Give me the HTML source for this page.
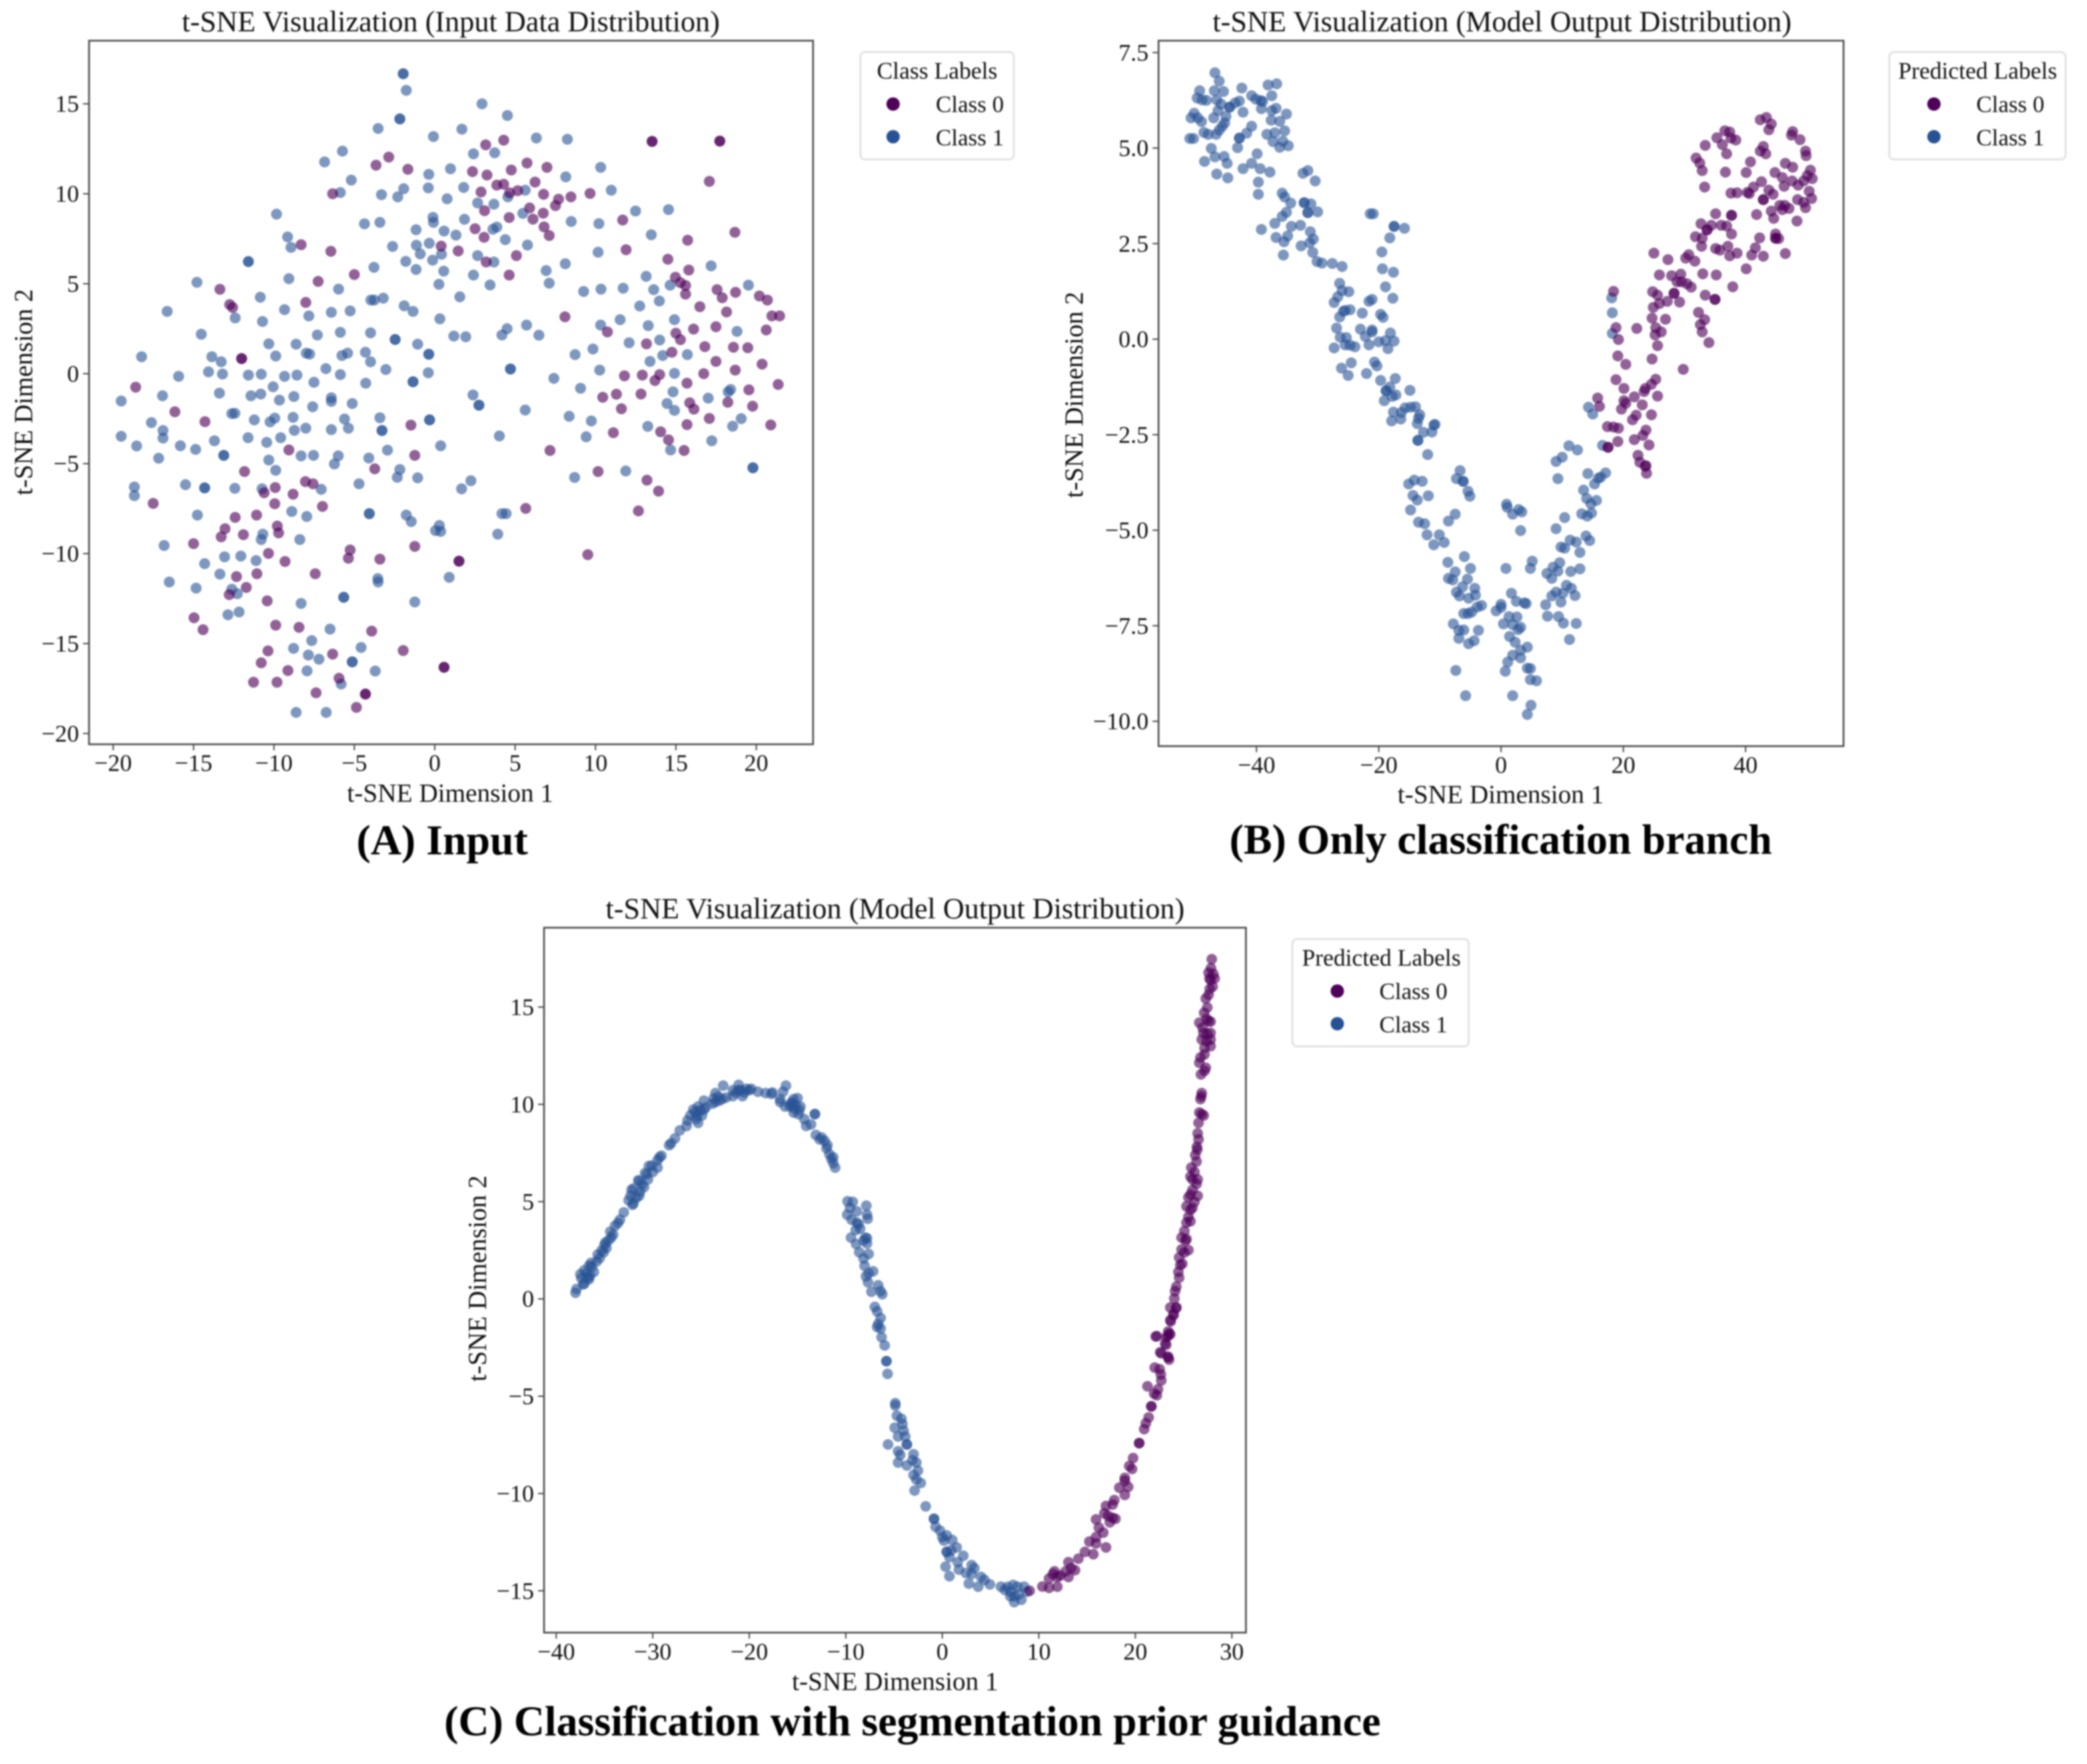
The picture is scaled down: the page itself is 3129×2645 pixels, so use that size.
<!DOCTYPE html>
<html lang="en">
<head>
<meta charset="utf-8">
<title>t-SNE Visualization Comparison</title>
<style>
html,body{margin:0;padding:0;background:#fff;width:3129px;height:2645px;overflow:hidden}
svg{display:block;filter:blur(1px)}
text{font-family:"Liberation Serif",serif;fill:#111}
.title{font-size:44.2px;text-anchor:middle}
.axis-label{font-size:39.2px;text-anchor:middle}
.tick{font-size:36px}
.legend-title{font-size:35.6px;text-anchor:middle}
.legend-text{font-size:35px}
.caption{font-size:63.8px;font-weight:bold;text-anchor:middle;fill:#000}
</style>
</head>
<body>
<svg id="figure" xmlns="http://www.w3.org/2000/svg" width="3129" height="2645" viewBox="0 0 3129 2645">
<rect width="3129" height="2645" fill="#fff"/>

<g id="panel-a">
<text class="title" x="676" y="47">t-SNE Visualization (Input Data Distribution)</text>
<text class="axis-label" x="675" y="1202">t-SNE Dimension 1</text>
<text class="axis-label" transform="translate(48,588) rotate(-90)">t-SNE Dimension 2</text>
<g>
<rect x="1290" y="78" width="230" height="161" rx="7" fill="#fff" stroke="#e2e2e2" stroke-width="3"/>
<text class="legend-title" x="1405" y="118">Class Labels</text>
<circle cx="1339" cy="156" r="10" fill="#4f0058"/>
<text class="legend-text" x="1403" y="168">Class 0</text>
<circle cx="1339" cy="205" r="10" fill="#265294"/>
<text class="legend-text" x="1403" y="218">Class 1</text>
</g>
<text class="caption" x="663" y="1281">(A) Input</text>
</g>

<g id="panel-b">
<text class="title" x="2252" y="47">t-SNE Visualization (Model Output Distribution)</text>
<text class="axis-label" x="2250" y="1204">t-SNE Dimension 1</text>
<text class="axis-label" transform="translate(1623,592) rotate(-90)">t-SNE Dimension 2</text>
<g>
<rect x="2832.5" y="78" width="264.5" height="161" rx="7" fill="#fff" stroke="#e2e2e2" stroke-width="3"/>
<text class="legend-title" x="2965" y="118">Predicted Labels</text>
<circle cx="2899.5" cy="156" r="10" fill="#4f0058"/>
<text class="legend-text" x="2963" y="168">Class 0</text>
<circle cx="2899.5" cy="205" r="10" fill="#265294"/>
<text class="legend-text" x="2963" y="218">Class 1</text>
</g>
<text class="caption" x="2250" y="1280">(B) Only classification branch</text>
</g>

<g id="panel-c">
<text class="title" x="1342" y="1377">t-SNE Visualization (Model Output Distribution)</text>
<text class="axis-label" x="1342" y="2534">t-SNE Dimension 1</text>
<text class="axis-label" transform="translate(728.5,1917) rotate(-90)">t-SNE Dimension 2</text>
<g>
<rect x="1937.6" y="1408" width="264.4" height="161" rx="7" fill="#fff" stroke="#e2e2e2" stroke-width="3"/>
<text class="legend-title" x="2071" y="1448">Predicted Labels</text>
<circle cx="2005" cy="1486" r="10" fill="#4f0058"/>
<text class="legend-text" x="2068" y="1498">Class 0</text>
<circle cx="2005" cy="1535" r="10" fill="#265294"/>
<text class="legend-text" x="2068" y="1548">Class 1</text>
</g>
<text class="caption" x="1368" y="2602">(C) Classification with segmentation prior guidance</text>
</g>
</svg>

<script>
// ---------- Tick values ----------
const inputXTicks = [-20,-15,-10,-5,0,5,10,15,20];
const inputYTicks = [-20,-15,-10,-5,0,5,10,15];
const branchXTicks = [-40,-20,0,20,40];
const branchYTicks = [-10,-7.5,-5,-2.5,0,2.5,5,7.5];
const guidedXTicks = [-40,-30,-20,-10,0,10,20,30];
const guidedYTicks = [-15,-10,-5,0,5,10,15];

// ---------- Panel A: input data ----------
const inputClass1 = [[-1.96,16.67],[-1.96,16.67],[-1.77,15.75],[-2.17,14.16],[-2.17,14.16],[-3.52,13.63],[-5.74,12.37],[-6.85,11.77],[-5.19,10.76],[-5.87,10.07],[-3.31,9.95],[-2.3,9.83],[-1.93,10.28],[-0.08,13.18],[1.69,13.59],[2.94,15],[4.52,14.35],[6.32,13.1],[8.25,13.03],[2.41,12.22],[3.73,12.28],[0.98,11.39],[-0.37,11.08],[-0.4,10.33],[1.8,10.35],[0.77,9.72],[2.67,9.49],[3.68,9.42],[4.55,9.83],[5.63,10.2],[5.48,8.91],[8.15,10.94],[10.32,11.47],[10.98,10.2],[8.49,8.46],[10.21,8.34],[12.49,9.04],[14.54,9.12],[13.47,7.72],[10.16,6.75],[8.12,6.11],[6.93,5.73],[7.12,5.03],[5.77,7.15],[4.39,7.45],[3.86,8.15],[3.62,8.03],[1.85,8.58],[1.32,7.7],[0.58,7.93],[-0.08,8.41],[-0.11,8.69],[-1.16,8],[-3.41,8.41],[-4.37,8.33],[-9.84,8.87],[-9.15,7.6],[-8.94,7.02],[-2.62,7.07],[-1.14,7.14],[-0.34,7.25],[-0.9,6.66],[0.42,6.64],[-0.13,6.31],[-1.8,6.24],[-1.16,5.79],[-3.78,5.91],[0.56,5.7],[2.67,6.56],[3.68,6.21],[2.41,5.48],[0.26,4.97],[3.44,4.93],[1.56,4.27],[-11.59,6.23],[-11.59,6.23],[-9.07,5.28],[-5.98,4.7],[-14.79,5.08],[-10.85,4.25],[-3.97,4.09],[-3.76,4.09],[-3.2,4.2],[-1.9,3.77],[-1.35,3.46],[0.32,3.05],[-16.64,3.46],[-12.41,3.1],[-9.34,3.56],[-7.83,3.21],[-6.43,3.41],[-5.26,3.49],[-10.71,2.9],[-14.52,2.19],[-7.3,2.15],[-5.87,2.3],[-3.99,2.27],[-2.46,1.9],[-2.46,1.9],[1.19,2.09],[1.93,2.05],[4.18,2.15],[4.5,2.5],[5.71,2.7],[6.48,2.14],[-10.32,1.66],[-8.62,1.64],[-1.06,1.64],[-7.99,1.14],[-7.78,1.09],[-9.89,0.98],[-5.77,1.01],[-5.42,1.14],[-4.31,1.19],[-3.99,0.66],[-0.37,1.08],[-0.37,1.08],[-18.23,0.94],[-13.86,0.94],[-13.28,0.66],[-14.07,0.1],[-13.2,-0.02],[-15.93,-0.15],[-11.59,-0.08],[-10.79,-0.03],[-9.34,-0.15],[-8.57,-0.08],[-6.77,0.28],[-5.87,-0.05],[-3.04,0.23],[-0.4,0.05],[4.71,0.26],[4.71,0.26],[-7.51,-0.48],[-4.29,-0.53],[-1.35,-0.45],[-1.35,-0.45],[7.41,-0.26],[8.73,1.06],[9.84,1.37],[10.26,0.2],[9.07,-0.81],[9.26,4.57],[10.34,4.7],[11.72,4.75],[13.15,5.41],[13.62,4.67],[13.97,4.04],[12.75,3.76],[14.64,4.92],[11.53,3],[10.32,2.7],[13.28,2.67],[12.09,1.72],[13.99,1.87],[14.18,1.01],[13.39,0.68],[-10.05,-0.73],[-13.39,-1.08],[-11.43,-1.23],[-10.82,-1.13],[-16.93,-1.23],[-19.5,-1.52],[-8.76,-1.27],[-9.66,-1.47],[-6.43,-1.34],[-6.43,-1.54],[-7.59,-1.84],[-5.13,-1.66],[2.38,-1.18],[2.75,-1.75],[2.75,-1.75],[5.63,-2.02],[-12.62,-2.22],[-12.43,-2.2],[-17.62,-2.72],[-11.22,-2.57],[-9.95,-2.47],[-10.24,-2.68],[-8.81,-2.43],[-5.61,-2.52],[-3.41,-2.45],[-0.32,-2.57],[-0.32,-2.57],[8.36,-2.37],[9.74,-2.63],[14.45,-1.66],[13.25,-2.93],[-8.02,-3.03],[-8.73,-3.15],[-6.43,-3.11],[-5.37,-3.03],[-3.28,-3.16],[-3.28,-3.16],[-16.9,-3.16],[-16.9,-3.58],[-19.5,-3.48],[-11.61,-3.56],[-9.58,-3.56],[-13.7,-3.73],[-10.45,-3.82],[-18.54,-4.02],[-15.82,-4.01],[-14.87,-4.21],[-17.17,-4.7],[-13.12,-4.54],[-13.12,-4.54],[-10.32,-4.8],[-8.31,-4.57],[-7.54,-4.54],[-6,-4.57],[-6.24,-5.02],[-4.1,-4.69],[-2.94,-4.25],[0.37,-4.01],[4.02,-3.46],[9.42,-3.51],[-9.89,-5.37],[-2.17,-5.33],[-2.33,-5.76],[-1.06,-5.79],[-4.71,-6.12],[2.25,-5.95],[1.67,-6.4],[-15.5,-6.17],[-14.31,-6.35],[-14.31,-6.35],[-12.43,-6.37],[-10.74,-6.4],[-7.06,-6.43],[-18.68,-6.3],[-18.68,-6.78],[8.7,-5.77],[11.88,-5.41],[-14.76,-7.86],[-8.89,-7.66],[-7.96,-7.94],[-4.07,-7.78],[-4.07,-7.78],[-1.77,-7.86],[-1.46,-8.22],[4.18,-7.78],[4.44,-7.78],[0.29,-8.44],[0.05,-8.72],[0.37,-8.77],[3.92,-8.92],[-10.69,-8.92],[-10.79,-9.22],[-8.39,-9.22],[-16.83,-9.55],[-13.07,-10.18],[-12.06,-10.14],[-11.11,-10.39],[-14.31,-10.56],[-13.36,-11.14],[-16.51,-11.58],[-14.84,-11.92],[-3.54,-11.39],[-3.52,-11.58],[0.9,-11.32],[-12.62,-11.98],[-12.28,-12.23],[-1.24,-12.69],[-5.66,-12.43],[-5.66,-12.43],[-8.31,-12.77],[-12.86,-13.4],[-12.17,-13.25],[-6.51,-14.2],[-7.65,-14.84],[-8.78,-15.27],[-4.58,-15.22],[-7.86,-15.64],[-7.2,-15.87],[-5.13,-16.02],[-5.13,-16.02],[-7.94,-16.52],[-3.7,-16.53],[-5.82,-17.25],[-8.62,-18.83],[-6.75,-18.83],[17.19,5.99],[19.51,4.92],[14.91,3],[18.8,2.35],[15.71,1.06],[14.91,0.02],[14.82,-1.01],[17.01,-1.36],[18.25,-1.01],[18.4,-0.88],[14.91,-2.04],[18.53,-2.92],[19.06,-2.5],[17.23,-3.73],[14.67,-4.24],[19.79,-5.23],[19.79,-5.23]];
const inputClass0 = [[13.52,12.91],[13.52,12.91],[4.29,12.98],[3.17,12.72],[-2.86,12.04],[-3.65,11.59],[-1.67,11.36],[2.35,11.23],[3.25,11.04],[4.76,11.32],[5.74,11.71],[6.98,11.47],[6.24,10.65],[3.86,10.48],[4.29,10.53],[2.88,10.1],[4.66,10.05],[5.16,10.17],[6.77,9.97],[7.7,9.7],[8.47,9.83],[9.66,10.02],[7.51,9.34],[5.9,9.21],[3.1,9.06],[6.75,8.92],[4.63,8.68],[6.11,8.59],[11.69,8.54],[6.8,8.16],[2.51,8.06],[3.07,7.58],[7.12,7.68],[0.4,7.09],[1.46,6.82],[11.9,6.89],[5.08,6.56],[3.2,6.21],[14.5,6.36],[4.63,5.48],[-6.35,10],[-8.31,7.17],[-6.46,6.8],[-5,5.51],[-7.25,5.13],[-13.36,4.69],[-12.75,3.84],[-12.57,3.68],[-8.02,3.96],[8.1,3.16],[10.74,2.32],[13.17,1.66],[-12.01,0.84],[-12.01,0.84],[11.8,-0.12],[12.91,-0.08],[13.99,-0.05],[13.7,-0.38],[-18.6,-0.75],[10.45,-1.31],[11.3,-1.14],[12.83,-1.13],[11.61,-1.95],[-16.16,-2.12],[-14.29,-2.67],[-1.48,-2.86],[11.11,-3.28],[14.05,-3.23],[14.54,-3.68],[-9.07,-4.24],[7.17,-4.27],[-1.24,-4.54],[-11.83,-5.44],[-3.73,-5.29],[10.16,-5.44],[-8.04,-6],[-7.57,-6.12],[13.2,-5.92],[-9.92,-6.33],[-10.61,-6.62],[-8.81,-6.7],[13.92,-6.53],[-17.51,-7.21],[-9.95,-7.23],[-6.98,-7.38],[5.66,-7.49],[12.67,-7.63],[-11.08,-7.86],[-12.41,-7.99],[-9.79,-8.47],[-9.71,-8.85],[-13.04,-8.62],[-13.28,-9.07],[-11.9,-8.95],[-15,-9.45],[-1.24,-9.6],[-5.26,-9.8],[-10.34,-9.99],[-5.37,-10.26],[-3.41,-10.31],[-9.31,-10.44],[1.51,-10.42],[1.51,-10.42],[9.52,-10.06],[-11.06,-11.12],[-12.33,-11.28],[-7.43,-11.12],[-11.72,-11.88],[-12.78,-12.28],[-10.42,-12.63],[-14.97,-13.57],[-14.41,-14.23],[-9.89,-13.98],[-8.44,-14.1],[-3.92,-14.31],[-10.37,-15.41],[-6.35,-15.59],[-1.96,-15.39],[-10.79,-16.07],[-9.13,-16.5],[0.58,-16.32],[0.58,-16.32],[-5.95,-16.93],[-11.27,-17.15],[-9.81,-17.15],[-7.38,-17.74],[-4.31,-17.81],[-4.31,-17.81],[-4.87,-18.55],[17.73,12.93],[17.73,12.93],[17.08,10.69],[18.67,7.86],[15.73,7.42],[15.8,5.76],[14.97,5.36],[15.28,5.06],[15.6,4.9],[15.6,4.42],[17.56,4.67],[17.88,4.22],[18.71,4.52],[20.19,4.32],[20.69,4.09],[16.49,3.72],[18.15,3.43],[20.97,3.21],[21.45,3.21],[16.1,2.48],[17.49,2.61],[20.62,2.43],[15,2.25],[15.28,1.89],[16.8,1.5],[18.58,1.47],[19.47,1.44],[14.75,1.19],[17.49,0.68],[20.36,0.53],[18.69,0.2],[16.73,0],[15.69,-0.53],[21.36,-0.6],[19.54,-0.9],[15.86,-1.62],[16.12,-1.97],[18.23,-1.59],[19.77,-1.81],[17.08,-2.49],[15.69,-2.83],[20.9,-2.85],[15.51,-4.27]];

// ---------- Panel B: classification branch only ----------
const branchClass1 = [[-46.8,6.97],[-46.1,6.75],[-49.3,6.5],[-46.9,6.5],[-45.4,6.48],[-42.4,6.57],[-38.1,6.65],[-36.7,6.68],[-49.7,6.31],[-48.2,6.25],[-48.9,6.26],[-46.5,6.26],[-45.8,6.15],[-40.8,6.37],[-40.1,6.28],[-39.3,6.24],[-39,6.22],[-37.5,6.37],[-42.8,6.23],[-43.5,6.18],[-44.4,6.07],[-44.4,6.07],[-42.2,5.94],[-39.2,6.03],[-36.8,6.04],[-37.5,5.98],[-46.3,5.98],[-35.1,5.89],[-50.2,5.91],[-50.7,5.79],[-49.6,5.79],[-49,5.69],[-47,5.79],[-45,5.83],[-45.2,5.66],[-45.6,5.57],[-46.1,5.47],[-37.6,5.73],[-36.2,5.7],[-40.8,5.57],[-48.6,5.41],[-47.9,5.36],[-46.6,5.36],[-41.6,5.39],[-35.4,5.45],[-38.3,5.36],[-37,5.4],[-50.9,5.25],[-50.3,5.25],[-42.8,5.26],[-42.8,5.26],[-35.7,5.18],[-37.3,5.17],[-34.8,5.06],[-36.2,5.02],[-43.1,5.01],[-47.4,4.99],[-39.9,4.85],[-46.8,4.77],[-45.3,4.78],[-48.5,4.65],[-44.8,4.6],[-40.8,4.6],[-42.2,4.46],[-39.4,4.46],[-37.8,4.37],[-46.5,4.32],[-44.7,4.22],[-39.7,4.11],[-32.4,4.34],[-31.6,4.41],[-30.4,4.14],[-39.7,3.79],[-35.8,3.82],[-35.4,3.72],[-34.4,3.56],[-32.2,3.57],[-32.2,3.57],[-31.1,3.54],[-30,3.33],[-31.6,3.31],[-31.6,3.31],[-35.1,3.32],[-35.8,3.21],[-21.4,3.28],[-20.9,3.28],[-37,3.03],[-34.3,2.95],[-32.8,2.98],[-39.2,2.87],[-31.2,2.81],[-17.5,2.95],[-17.5,2.95],[-15.8,2.9],[-34.9,2.7],[-36.8,2.66],[-30.7,2.62],[-18.2,2.65],[-35.5,2.55],[-31.3,2.52],[-32.7,2.44],[-19.5,2.28],[-30.8,2.27],[-35.6,2.2],[-30.1,2.03],[-29.3,1.99],[-27.6,1.98],[-26,1.9],[-19.4,1.84],[-17.6,1.75],[-26.4,1.46],[-18.9,1.37],[-26,1.27],[-24.9,1.24],[-26.7,1.11],[-27.3,0.96],[-17.7,1.07],[-21.1,1.04],[-21.6,0.99],[-24.7,0.77],[-25.5,0.75],[-25.8,0.73],[-22.7,0.68],[-19.7,0.65],[-19.3,0.57],[-26.4,0.58],[-26.9,0.29],[-23,0.26],[-21.1,0.24],[-21.1,0.19],[-18.1,0.16],[-22.2,0.07],[-26.3,0.05],[-25.3,0.04],[-20,-0.07],[-18.9,-0.04],[-17.5,-0.05],[-21.6,-0.15],[-25.5,-0.15],[-24.7,-0.16],[-23.9,-0.2],[-27.3,-0.23],[-18.5,-0.25],[-24.5,-0.62],[-20.7,-0.6],[-20.3,-0.7],[-26.1,-0.76],[-25,-0.95],[-22,-0.9],[-17.3,-1.03],[-19.7,-1.08],[-18.2,-1.25],[-14.9,-1.34],[-18.8,-1.35],[-18.8,-1.35],[-17.2,-1.46],[-17.8,-1.5],[-19.1,-1.61],[-14,-1.77],[-14.8,-1.78],[-15.7,-1.8],[-13.3,-1.98],[-17.6,-1.91],[-16.3,-1.92],[-13.5,-2.07],[-16.4,-2.09],[-17.9,-2.14],[-13.7,-2.21],[-10.8,-2.23],[-11,-2.25],[-12.7,-2.44],[-11.3,-2.43],[-13.6,-2.65],[-13.6,-2.65],[-12,-3.02],[11.1,-2.79],[12.5,-2.9],[10,-3.09],[9,-3.2],[16.6,-2.78],[18.1,1.08],[18.2,0.69],[18.2,0.15],[14.3,-1.78],[15,-1.96],[-6.7,-3.44],[-7.3,-3.65],[-6.2,-3.72],[-6.2,-3.72],[-14.2,-3.69],[-12.9,-3.72],[-15.1,-3.79],[-5.4,-3.98],[-5.1,-4.11],[-14.4,-4.09],[-11.9,-4.1],[-13.7,-4.21],[0.9,-4.32],[1,-4.4],[1.9,-4.58],[2.9,-4.46],[3.4,-4.52],[-14.8,-4.47],[-7.5,-4.58],[-8.6,-4.76],[-13.5,-4.79],[-12.5,-4.83],[-12.1,-5.12],[-10.1,-5.12],[-9.3,-5.32],[-11,-5.38],[3.2,-5.01],[-6,-5.69],[-8.7,-5.84],[-5,-6],[0.8,-6],[-7.5,-6.09],[-8.6,-6.26],[-7.9,-6.3],[-5.5,-6.28],[-6.3,-6.48],[-4.3,-6.52],[-4.2,-6.7],[-7.3,-6.62],[-6.8,-6.72],[-5.3,-6.78],[1.7,-6.65],[2.5,-6.86],[3.8,-6.9],[4.1,-6.92],[-3.2,-6.97],[-3.9,-7.01],[0,-6.94],[0,-7.02],[-0.8,-7.11],[-4.8,-7.14],[-5.4,-7.18],[-6.1,-7.18],[1.3,-7.26],[2.6,-7.27],[0.4,-7.45],[-7.8,-7.45],[1.9,-7.47],[3.2,-7.54],[2.8,-7.6],[-6.9,-7.62],[-6.1,-7.61],[-3.7,-7.62],[-6.9,-7.83],[1.4,-7.78],[2.3,-7.93],[-4.4,-7.89],[-5.3,-7.97],[4.3,-8.06],[3.2,-8.14],[1.9,-8.27],[3.2,-8.34],[1.1,-8.45],[4.3,-8.61],[4.8,-8.62],[-7.4,-8.67],[0.7,-8.69],[4.8,-8.91],[5.8,-8.94],[-5.8,-9.33],[1.9,-9.33],[4.9,-9.58],[4.3,-9.82],[5.1,-5.81],[4.8,-6],[14.2,-3.52],[9.3,-3.65],[17.1,-3.5],[16.3,-3.61],[15.9,-3.64],[15.3,-3.79],[13.5,-3.95],[14,-4.17],[15.6,-4.22],[14.7,-4.31],[14.8,-4.55],[13.2,-4.57],[14.1,-4.63],[10.4,-4.67],[9,-4.96],[13.9,-5.15],[14.5,-5.27],[11.3,-5.26],[12.3,-5.31],[9.8,-5.44],[10.4,-5.47],[12.9,-5.58],[9.6,-5.85],[8.5,-5.97],[9.3,-6.07],[7.5,-6.13],[8.3,-6.26],[12.9,-6.01],[11.4,-6.08],[10.7,-6.44],[11.5,-6.52],[9,-6.62],[10.1,-6.65],[12.1,-6.71],[8.3,-6.72],[7.3,-6.95],[9.8,-6.88],[7.6,-7.25],[9.4,-7.26],[10.2,-7.43],[12.3,-7.44],[11.2,-7.86]];
const branchClass0 = [[43.4,5.8],[42.4,5.74],[44.2,5.63],[43.8,5.48],[47.7,5.43],[47.5,5.34],[48.9,5.22],[36.6,5.45],[37.4,5.42],[35.3,5.27],[37.6,5.26],[38.4,5.21],[36.2,5.09],[33.4,5.07],[42.9,5.04],[42.4,4.92],[43.3,4.85],[49.8,4.92],[49.9,4.8],[36.9,4.85],[31.9,4.74],[32.5,4.61],[40.8,4.64],[46.5,4.6],[47.7,4.5],[32.9,4.41],[36.7,4.37],[40.1,4.36],[44.8,4.36],[50.6,4.42],[50.1,4.28],[46,4.23],[50.9,4.2],[47.6,4.14],[49.5,4.14],[42.6,4.12],[48.6,4.03],[41.3,3.98],[46.3,4],[33.3,3.98],[43.8,3.9],[50.4,3.87],[44.5,3.79],[37.6,3.82],[38.6,3.83],[40.3,3.84],[40.6,3.81],[42.9,3.65],[42.9,3.65],[50.8,3.68],[48.5,3.65],[49.5,3.58],[45.6,3.5],[46.4,3.5],[47.1,3.42],[46,3.39],[49.8,3.44],[35.1,3.28],[37.7,3.24],[37.7,3.24],[41.8,3.26],[44.2,3.35],[44.6,3.16],[48.4,3.09],[32.7,3.02],[34.4,2.98],[36,2.98],[36.9,2.96],[33.7,2.86],[33.7,2.86],[37.7,2.75],[31.8,2.68],[32.9,2.64],[44.9,2.75],[42.3,2.65],[44.9,2.64],[44.9,2.64],[45.4,2.63],[32.8,2.43],[35.1,2.37],[35.8,2.33],[37.1,2.43],[41.6,2.39],[37.4,2.18],[38.6,2.25],[41,2.2],[42.9,2.17],[46.5,2.24],[25,2.25],[27.3,2.08],[30.7,2.21],[30.2,2.12],[31.7,2.04],[40.1,1.84],[25.9,1.68],[27.9,1.66],[29.4,1.7],[33,1.71],[35.2,1.68],[28.8,1.5],[29.5,1.5],[30.4,1.45],[31.1,1.36],[37.9,1.37],[18.4,1.25],[24.8,1.24],[25.6,1.15],[28.3,1.2],[28.3,1.2],[33.4,1.15],[35,1.04],[35,1.04],[27.2,0.99],[25.9,0.93],[29.2,0.97],[24.9,0.83],[32.3,0.7],[24.7,0.55],[26.9,0.52],[33.3,0.51],[32.6,0.38],[18.8,0.3],[22.2,0.28],[25.3,0.3],[26.2,0.19],[25.2,0.11],[32.9,0.19],[19.2,-0.01],[34,-0.09],[25.6,-0.17],[19.1,-0.44],[24.7,-0.52],[20.4,-0.66],[29.8,-0.79],[18.8,-1.06],[25.3,-1.05],[24.6,-1.18],[20.1,-1.29],[23.6,-1.29],[23.4,-1.37],[25.6,-1.49],[21.8,-1.51],[15.8,-1.54],[20.1,-1.61],[20.4,-1.68],[23.1,-1.72],[16.1,-1.76],[19.7,-1.83],[22.1,-1.99],[21.5,-2.11],[24.6,-1.98],[17.4,-2.29],[18.4,-2.3],[19.2,-2.33],[23.7,-2.38],[23.2,-2.52],[21.8,-2.63],[19.1,-2.68],[24.2,-2.77],[17.5,-2.83],[17.5,-2.83],[22.4,-3.04],[22.7,-3.22],[23.7,-3.31],[23.8,-3.51],[23.6,-3.33]];

// ---------- Panel C: with segmentation prior guidance ----------
const guidedClass1 = [[-38,0.32],[-37.9,0.51],[-37.2,0.75],[-37.4,1.06],[-37.1,0.78],[-36.6,1.01],[-37.5,1.27],[-37.1,1.47],[-36.6,1.7],[-36.4,1.85],[-36.7,1.09],[-36.1,1.39],[-35.8,1.93],[-35.7,2.28],[-35.3,2.49],[-35,2.77],[-34.8,2.62],[-35.1,2.39],[-34.6,3],[-34.1,3.31],[-34.4,3.46],[-33.9,3.76],[-33.4,4.07],[-33,4.45],[-32.5,5.07],[-32.1,4.84],[-32,4.91],[-31.4,5.3],[-32,5.68],[-31.4,6.06],[-30.9,5.75],[-31.3,5.52],[-30.5,6.14],[-30.8,6.47],[-30.4,6.83],[-30,6.52],[-29.5,6.75],[-29.3,7.28],[-29.1,7.36],[-29.5,7.13],[-28.3,7.9],[-28.1,8],[-27.7,8.25],[-27.2,8.66],[-26.5,8.89],[-26.4,9.17],[-26.1,9.43],[-25.8,9.73],[-25.3,9.89],[-25.4,9.43],[-25.3,9.05],[-24.9,9.43],[-24.7,9.73],[-24.7,10.19],[-23.8,10.04],[-23.5,10.12],[-23.5,10.58],[-23.1,10.19],[-22.8,10.27],[-22.4,10.35],[-22.7,10.96],[-21.7,10.73],[-21.7,10.42],[-21.1,11],[-21.1,10.73],[-20.7,10.42],[-20.9,10.73],[-20,10.73],[-19.8,10.8],[-19.1,10.65],[-18.3,10.58],[-17.7,10.54],[-17.6,10.61],[-16.8,10.27],[-16.5,10.65],[-16.2,10.96],[-16.8,10.12],[-16.3,9.89],[-15.7,10.04],[-15.4,10.27],[-15,10.32],[-15.4,9.81],[-14.7,9.89],[-15.4,9.58],[-14.9,9.5],[-14.3,9.24],[-13.2,9.5],[-13.2,9.5],[-13.6,8.97],[-14.1,8.89],[-13.1,8.43],[-12.7,8.2],[-12.2,8.13],[-12,7.74],[-11.7,7.44],[-11.3,7.28],[-11.3,6.98],[-11.1,6.75],[-36.9,1.3],[-36.3,1.65],[-36.5,1.2],[-35.5,2.1],[-34.9,2.9],[-34.3,3.15],[-33.6,3.9],[-32.3,5.3],[-32.2,5.6],[-31.7,5.2],[-31.5,6.1],[-31.1,5.9],[-30.6,6.4],[-30.1,6.85],[-25.6,9.6],[-25.1,9.7],[-25.5,9.25],[-24.5,9.85],[-23.7,10.3],[-23.2,10.4],[-21.4,10.6],[-20.5,10.6],[-20.3,10.8],[-15.8,9.9],[-15.2,9.95],[-15.6,10.1],[-14.8,9.7],[-12.5,8.3],[-11.9,7.9],[-11.5,7.2],[-9.81,5.02],[-9.28,4.99],[-7.87,4.79],[-9.57,4.68],[-8.86,4.5],[-9.85,4.33],[-7.8,4.33],[-7.73,4.12],[-9.39,4.07],[-8.86,3.92],[-8.68,3.84],[-8.51,3.61],[-8.97,3.54],[-9.46,3.15],[-7.98,3.15],[-7.8,3.12],[-8.16,3],[-8.93,2.82],[-7.8,2.85],[-8.61,2.4],[-7.63,2.31],[-8.16,2.08],[-8.05,1.7],[-7.17,1.42],[-7.63,1.32],[-7.91,1.16],[-7.7,0.86],[-6.64,0.7],[-7.34,0.37],[-6.22,0.24],[-6.39,0.4],[-6.99,-0.41],[-6.75,-0.64],[-6.39,-0.98],[-6.64,-1.29],[-6.39,-1.52],[-6.75,-1.44],[-6.29,-1.97],[-5.97,-2.39],[-5.79,-3.2],[-5.79,-3.2],[-5.67,-3.85],[-4.87,-5.36],[-4.87,-5.48],[-4.7,-6],[-4.24,-6.16],[-4.13,-6.43],[-4.93,-6.62],[-4.01,-6.77],[-4.58,-7.07],[-3.84,-7.07],[-3.67,-7.48],[-3.67,-7.48],[-5.62,-7.48],[-4.58,-7.83],[-4.36,-8.02],[-2.98,-7.98],[-3.09,-8.29],[-4.58,-8.41],[-3.67,-8.56],[-2.69,-8.41],[-2.52,-8.82],[-2.98,-9.05],[-2.69,-9.28],[-2.23,-9.46],[-2.87,-9.85],[-1.72,-10.66],[-0.86,-11.3],[-0.86,-11.3],[-0.69,-11.71],[-0.23,-11.91],[0,-12.24],[0.17,-12.42],[0.46,-12.16],[1.03,-12.39],[1.49,-12.77],[0.46,-13],[0.46,-13],[0.92,-12.92],[0.74,-13.27],[2.18,-13.2],[1.6,-13.53],[0.34,-13.76],[1.72,-13.91],[3.04,-13.68],[3.32,-13.84],[2.46,-14.09],[0.74,-14.25],[3.04,-14.14],[4.01,-14.29],[4.36,-14.44],[2.75,-14.63],[3.72,-14.79],[4.93,-14.67],[6.07,-14.79],[6.48,-14.95],[7.05,-15.05],[7.34,-14.7],[7.79,-14.79],[7.45,-15.28],[7.45,-15.58],[8.19,-15.46],[8.48,-14.79],[8.77,-15.05],[7.91,-15.2],[6.76,-14.8],[7.05,-15.28]];
const guidedClass0 = [[9.05,-15],[10.37,-14.78],[11.06,-14.85],[11.92,-14.79],[11.06,-14.37],[11.46,-14.14],[11.92,-14.29],[12.21,-14.22],[11.63,-14],[12.78,-14],[13.07,-14.29],[13.35,-13.84],[13.75,-13.94],[13.07,-13.53],[14.1,-13.35],[14.78,-13],[15.65,-13.12],[15.24,-12.47],[15.93,-12.24],[15.93,-12.57],[16.96,-12.77],[16.68,-12.01],[16.22,-11.75],[15.93,-11.33],[16.79,-11.02],[16.96,-10.64],[17.36,-11.48],[17.65,-11.25],[17.94,-11.3],[17.19,-11.15],[17.82,-10.34],[17.65,-10.57],[18.91,-10.07],[18.34,-9.7],[19.26,-9.66],[18.91,-9.2],[18.91,-9.35],[19.66,-8.74],[19.37,-8.59],[19.77,-8.18],[20.4,-7.41],[20.4,-7.41],[20.92,-6.69],[21.09,-6.39],[21.38,-6.09],[21.66,-5.52],[21.66,-5.52],[21.26,-4.49],[21.95,-4.87],[22.23,-4.95],[22.35,-4.64],[22.69,-4.19],[22.01,-3.53],[22.52,-3.61],[22.64,-3.88],[22.69,-2.79],[23.38,-2.97],[23.5,-3.12],[23.09,-2.29],[22.23,-1.91],[23.38,-1.91],[23.5,-1.78],[23.67,-1.15],[23.95,-0.84],[24.24,-0.46],[27.92,17.46],[27.84,17],[27.59,16.77],[28.09,16.7],[28.22,16.47],[27.68,16.47],[27.8,16.39],[28.01,16.05],[27.71,15.93],[27.59,15.63],[27.3,15.44],[27.46,14.98],[27.13,14.71],[27.38,14.4],[27.8,14.25],[27.59,14.28],[26.63,14.2],[26.96,13.94],[27.05,13.67],[27.8,13.67],[27.46,13.64],[26.88,13.33],[27.8,13.33],[27.38,13.25],[27.8,12.99],[27.17,12.9],[27.17,12.57],[26.75,12.41],[26.63,12.14],[27.3,11.88],[27.17,11.72],[26.8,11.54],[26.88,10.58],[26.75,10.27],[26.84,10.42],[26.63,9.58],[26.88,9.5],[27.09,9.43],[26.55,9.05],[26.46,8.51],[26.55,8.2],[26.38,7.82],[26.42,7.67],[26.21,7.39],[26.34,7.06],[25.8,6.75],[26.13,6.52],[25.71,6.29],[26.46,6.14],[25.92,6.14],[26.34,5.91],[25.92,5.6],[25.71,5.37],[26.46,5.3],[25.5,5.22],[26.13,4.99],[25.3,4.76],[25.92,4.68],[25.71,4.58],[25.5,4.22],[25.3,3.92],[25.71,3.99],[25.08,3.49],[24.79,3.15],[25.3,3.08],[25.21,3],[24.79,2.54],[25.5,2.51],[25.08,2.39],[24.54,2.13],[24.87,1.81],[24.66,1.74],[24.46,1.39],[24.54,1.09],[24.25,0.63],[24.12,0.4],[24.04,0.02],[23.62,-0.44],[24.25,-0.44],[23.96,-0.78],[23.62,-1.09],[23.41,-1.67],[23.62,-1.82],[22.11,-1.93],[23.2,-1.97],[23.2,-2.36],[22.57,-2.74],[23.41,-3]];

// ---------- Rendering ----------
const SVGNS = 'http://www.w3.org/2000/svg';
const AXIS_COLOR = '#4a4a4a';
const CLASS_0_COLOR = '#4f0058';
const CLASS_1_COLOR = '#265294';

function linearScale(d0, d1, r0, r1) {
  return function (v) { return r0 + (v - d0) * (r1 - r0) / (d1 - d0); };
}
function formatTick(v, digits) {
  const s = Math.abs(v).toFixed(digits);
  return v < 0 ? '\u2212' + s : s;
}
function make(tag, attrs) {
  const el = document.createElementNS(SVGNS, tag);
  for (const k in attrs) el.setAttribute(k, attrs[k]);
  return el;
}

function drawPanel(opts) {
  const root = document.getElementById(opts.id);
  const x = linearScale(opts.xDomain[0], opts.xDomain[1], opts.box.left, opts.box.right);
  const y = linearScale(opts.yDomain[0], opts.yDomain[1], opts.box.bottom, opts.box.top);
  const clipId = opts.id + '-clip';

  const defs = make('defs', {});
  const clip = make('clipPath', { id: clipId });
  clip.appendChild(make('rect', {
    x: opts.box.left, y: opts.box.top,
    width: opts.box.right - opts.box.left, height: opts.box.bottom - opts.box.top
  }));
  defs.appendChild(clip);
  root.appendChild(defs);

  const marks = make('g', { 'clip-path': 'url(#' + clipId + ')' });
  
  
  root.appendChild(marks);

  opts.class1.forEach(function (p) {
    const c = make('circle', { cx: x(p[0]), cy: y(p[1]), r: opts.radius, fill: CLASS_1_COLOR, 'fill-opacity': 0.6 });
    
    
    marks.appendChild(c);
  });
  opts.class0.forEach(function (p) {
    const c = make('circle', { cx: x(p[0]), cy: y(p[1]), r: opts.radius, fill: CLASS_0_COLOR, 'fill-opacity': 0.62 });
    
    
    marks.appendChild(c);
  });

  const frame = make('rect', {
    x: opts.box.left, y: opts.box.top,
    width: opts.box.right - opts.box.left, height: opts.box.bottom - opts.box.top,
    fill: 'none', stroke: AXIS_COLOR, 'stroke-width': 2.6
  });
  
  
  root.appendChild(frame);

  opts.xTicks.forEach(function (v) {
    const px = x(v);
    const t = make('line', { x1: px, x2: px, y1: opts.box.bottom, y2: opts.box.bottom + 9, stroke: AXIS_COLOR, 'stroke-width': 2 });
    
    
    root.appendChild(t);
    const l = make('text', { x: px, y: opts.xLabelBaseline, 'text-anchor': 'middle', class: 'tick' });
    
    
    l.textContent = formatTick(v, 0);
    root.appendChild(l);
  });
  opts.yTicks.forEach(function (v) {
    const py = y(v);
    const t = make('line', { x1: opts.box.left - 9, x2: opts.box.left, y1: py, y2: py, stroke: AXIS_COLOR, 'stroke-width': 2 });
    
    
    root.appendChild(t);
    const l = make('text', { x: opts.box.left - 15, y: py + 12, 'text-anchor': 'end', class: 'tick' });
    
    
    l.textContent = formatTick(v, opts.yDigits);
    root.appendChild(l);
  });
}

drawPanel({
  id: 'panel-a', prefix: 'input',
  box: { left: 133.5, right: 1219, top: 61, bottom: 1116 },
  xDomain: [-21.5, 23.53], yDomain: [-20.6, 18.51],
  xTicks: inputXTicks, yTicks: inputYTicks, yDigits: 0,
  xLabelBaseline: 1156, radius: 8.2,
  class0: inputClass0, class1: inputClass1
});
drawPanel({
  id: 'panel-b', prefix: 'branch',
  box: { left: 1737, right: 2764, top: 61, bottom: 1118.8 },
  xDomain: [-56.02, 56.02], yDomain: [-10.65, 7.81],
  xTicks: branchXTicks, yTicks: branchYTicks, yDigits: 1,
  xLabelBaseline: 1159, radius: 8.2,
  class0: branchClass0, class1: branchClass1
});
drawPanel({
  id: 'panel-c', prefix: 'guided',
  box: { left: 815.7, right: 1868, top: 1391, bottom: 2448 },
  xDomain: [-41.26, 31.46], yDomain: [-17.15, 19.08],
  xTicks: guidedXTicks, yTicks: guidedYTicks, yDigits: 0,
  xLabelBaseline: 2488.6, radius: 8,
  class0: guidedClass0, class1: guidedClass1
});
</script>
</body>
</html>
